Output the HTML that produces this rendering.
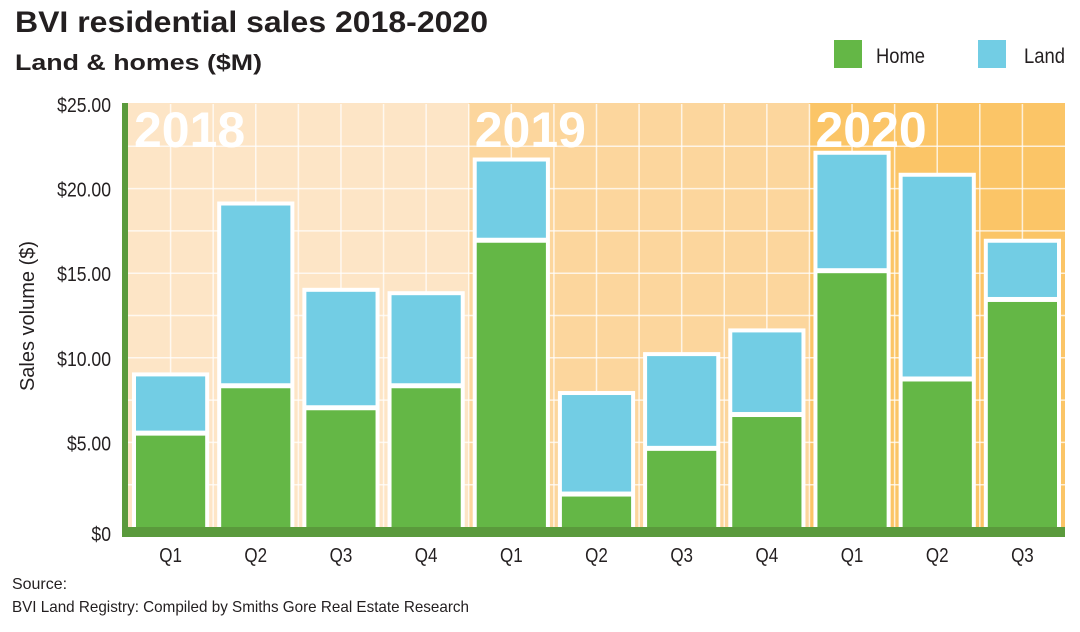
<!DOCTYPE html>
<html><head><meta charset="utf-8"><style>
html,body{margin:0;padding:0;background:#fff;}
svg{display:block;}
text{font-family:"Liberation Sans Narrow","Liberation Sans",sans-serif;}
.t{font-family:"Liberation Sans",sans-serif;font-weight:bold;fill:#231f20;}
</style></head><body>
<svg id="chart" width="1080" height="632" viewBox="0 0 1080 632">
<text class="t" x="15" y="32" font-size="30" textLength="473" lengthAdjust="spacingAndGlyphs">BVI residential sales 2018-2020</text>
<text class="t" x="15" y="70" font-size="22" textLength="247" lengthAdjust="spacingAndGlyphs">Land &amp; homes ($M)</text>
<rect x="834" y="40" width="28" height="28" fill="#64b746"/>
<text x="876" y="63" font-size="21" fill="#231f20" textLength="49" lengthAdjust="spacingAndGlyphs">Home</text>
<rect x="978" y="40" width="28" height="28" fill="#72cde4"/>
<text x="1024" y="63" font-size="21" fill="#231f20" textLength="41" lengthAdjust="spacingAndGlyphs">Land</text>
<g id="bg"></g>
<g id="bars"></g>
<g id="axes"></g>
<text x="12" y="589" font-size="16" fill="#231f20" textLength="55" lengthAdjust="spacingAndGlyphs">Source:</text>
<text x="12" y="612" font-size="16" fill="#231f20" textLength="457" lengthAdjust="spacingAndGlyphs">BVI Land Registry: Compiled by Smiths Gore Real Estate Research</text>
<text transform="translate(34,316) rotate(-90)" text-anchor="middle" font-size="20" fill="#231f20">Sales volume ($)</text>
</svg>
<script>
const categories = ["Q1","Q2","Q3","Q4","Q1","Q2","Q3","Q4","Q1","Q2","Q3"];
const years = ["2018","2019","2020"];
const yearStart = [0,4,8];
const homeValues = [5.4, 8.2, 6.9, 8.2, 16.8, 1.8, 4.5, 6.5, 15.0, 8.6, 13.3];
const landValues = [3.5, 10.8, 7.0, 5.5, 4.8, 6.0, 5.6, 5.0, 7.0, 12.1, 3.5];
const yTicks = [0, 5, 10, 15, 20, 25];
const yTickLabels = ["$0","$5.00","$10.00","$15.00","$20.00","$25.00"];

const NS = "http://www.w3.org/2000/svg";
const X0 = 128, X1 = 1065, Y0 = 527, YMAX = 25, YTOP = 104;
const slot = (X1 - X0) / categories.length;
const y = v => Y0 - (v / YMAX) * (Y0 - YTOP);
const xs = i => X0 + i * slot;
function mk(tag, attrs, parent){const e=document.createElementNS(NS,tag);for(const k in attrs)e.setAttribute(k,attrs[k]);parent.appendChild(e);return e;}

const bg = document.getElementById('bg');
const bgCols = ["#fde5c6","#fcd69d","#fbc567"];
years.forEach((yr, j) => {
  const a = xs(yearStart[j]);
  const b = j < years.length - 1 ? xs(yearStart[j+1]) : X1;
  const r = mk('rect',{x:a,y:YTOP-1,width:b-a,height:Y0-YTOP+1,fill:bgCols[j]},bg);
  
  
});
for (let gx = X0 + slot/2; gx < X1; gx += slot/2) {
  const l = mk('line',{x1:gx,y1:YTOP,x2:gx,y2:Y0,stroke:'#fff','stroke-width':1.5,opacity:0.75},bg);
  
  
}
for (let v = 2.5; v < YMAX; v += 2.5) {
  const l = mk('line',{x1:X0,y1:y(v),x2:X1,y2:y(v),stroke:'#fff','stroke-width':1.5,opacity:0.75},bg);
  
  
}
years.forEach((yr, j) => {
  const t = mk('text',{x:xs(yearStart[j])+6,y:147,'font-size':50,'font-weight':'bold',fill:'#fff',style:'font-family:"Liberation Sans",sans-serif'},bg);
  t.textContent = yr;
  
  
});

const bars = document.getElementById('bars');
categories.forEach((c, i) => {
  const bx = xs(i) + 8, bw = slot - 16;
  const h = homeValues[i], l = landValues[i];
  const outline = mk('rect',{x:bx-4,y:y(h+l)-4,width:bw+8,height:Y0-y(h+l)+4,fill:'#fff'},bars);
  
  
  const hr = mk('rect',{x:bx,y:y(h),width:bw,height:Y0-y(h),fill:'#64b746'},bars);
  
  
  const lr = mk('rect',{x:bx,y:y(h+l),width:bw,height:y(h)-y(h+l)-5,fill:'#72cde4'},bars);
  
  
});

const axes = document.getElementById('axes');
const la = mk('rect',{x:122,y:YTOP-1,width:6,height:Y0-YTOP+11,fill:'#5a9a3c'},axes);


const ba = mk('rect',{x:122,y:Y0,width:X1-122,height:10,fill:'#5a9a3c'},axes);


yTicks.forEach((v, k) => {
  const t = mk('text',{x:111,y:y(v)+8+(v===0?6:0),'text-anchor':'end','font-size':20,fill:'#231f20',transform:'translate(111,0) scale(0.88,1) translate(-111,0)'},axes);
  t.textContent = yTickLabels[k];
  
  
});
categories.forEach((c, i) => {
  const cx = xs(i)+slot/2;
  const t = mk('text',{x:cx,y:562,'text-anchor':'middle','font-size':20,fill:'#231f20',transform:'translate('+cx+',0) scale(0.85,1) translate('+(-cx)+',0)'},axes);
  t.textContent = c;
  
  
});
</script>
</body></html>
